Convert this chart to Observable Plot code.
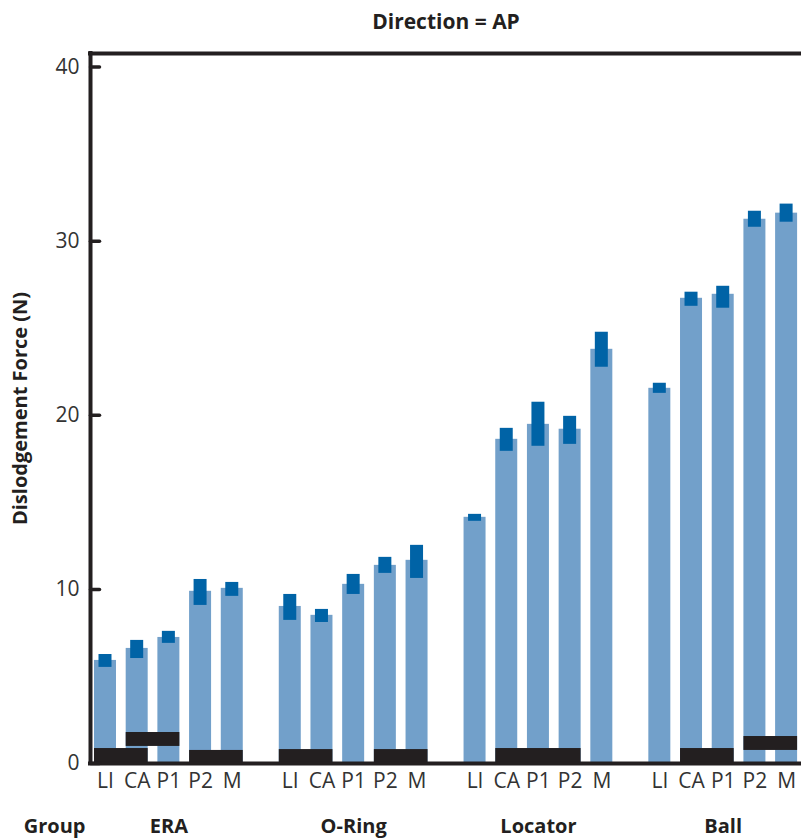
<!DOCTYPE html>
<html><head><meta charset="utf-8">
<script src="https://cdn.jsdelivr.net/npm/d3@7"></script>
<script src="https://cdn.jsdelivr.net/npm/@observablehq/plot@0.6"></script>
<style>body{margin:0;background:#fff;overflow:hidden}</style>
</head><body><div id="chart"></div>
<script>
// ---- data ----
const groups = ["ERA", "O-Ring", "Locator", "Ball"];
const positions = ["LI", "CA", "P1", "P2", "M"];
const yTicks = [0, 10, 20, 30, 40];

const eraMean     = [5.92, 6.61, 7.24, 9.89, 10.06];
const eraHigh     = [6.26, 7.07, 7.59, 10.57, 10.40];
const eraLow      = [5.52, 6.03, 6.90, 9.08, 9.60];
const oringMean   = [9.02, 8.51, 10.29, 11.38, 11.67];
const oringHigh   = [9.71, 8.85, 10.86, 11.84, 12.53];
const oringLow    = [8.22, 8.10, 9.71, 10.92, 10.63];
const locatorMean = [14.14, 18.62, 19.48, 19.20, 23.79];
const locatorHigh = [14.31, 19.25, 20.75, 19.94, 24.77];
const locatorLow  = [13.91, 17.93, 18.22, 18.33, 22.76];
const ballMean    = [21.55, 26.72, 26.95, 31.26, 31.61];
const ballHigh    = [21.84, 27.07, 27.41, 31.72, 32.13];
const ballLow     = [21.26, 26.26, 26.15, 30.80, 31.09];

// black segments spanning several positions
const segGroup = ["ERA", "ERA", "ERA", "O-Ring", "O-Ring", "Locator", "Ball", "Ball"];
const segFrom  = ["LI", "CA", "P2", "LI", "P2", "CA", "CA", "P2"];
const segTo    = ["CA", "P1", "M", "CA", "M", "P2", "P1", "M"];
const segLow   = [0, 0.98, 0, 0, 0, 0, 0, 0.75];
const segHigh  = [0.86, 1.78, 0.75, 0.80, 0.80, 0.86, 0.86, 1.55];

// ---- layout helpers ----
const GROUP_PITCH = 5.83;
const BAR_HALF = 0.347, ERR_HALF = 0.205;
const slot = (g, p) => groups.indexOf(g) * GROUP_PITCH + positions.indexOf(p);

const meanArr = [eraMean, oringMean, locatorMean, ballMean];
const highArr = [eraHigh, oringHigh, locatorHigh, ballHigh];
const lowArr  = [eraLow, oringLow, locatorLow, ballLow];

const bars = groups.flatMap((g, gi) => positions.map((p, pi) => ({
  group: g, pos: p, x: slot(g, p),
  mean: meanArr[gi][pi], high: highArr[gi][pi], low: lowArr[gi][pi]
})));
const segs = segGroup.map((g, i) => ({
  x1: slot(g, segFrom[i]) - BAR_HALF, x2: slot(g, segTo[i]) + BAR_HALF,
  low: segLow[i], high: segHigh[i]
}));

const xMin = -0.473, xMax = 21.96, yMax = 40.78;
const ink = "#231f20";
const font = "'Open Sans', sans-serif";
const tickShape = {draw(c, l) { c.moveTo(0, 0); c.lineTo(0, -l); }};

const chart = Plot.plot({
  width: 801, height: 838,
  marginLeft: 90, marginRight: 0, marginTop: 53, marginBottom: 75,
  x: {type: "linear", domain: [xMin, xMax], axis: null},
  y: {domain: [0, yMax], axis: null},
  style: {fontFamily: font, background: "white"},
  marks: [
    Plot.rect(bars, {x1: d => d.x - BAR_HALF, x2: d => d.x + BAR_HALF, y1: 0, y2: "mean", fill: "#72a0ca"}),
    Plot.rect(segs, {x1: "x1", x2: "x2", y1: "low", y2: "high", fill: ink}),
    Plot.rect(bars, {x1: d => d.x - ERR_HALF, x2: d => d.x + ERR_HALF, y1: "low", y2: "high", fill: "#0063a6"}),
    Plot.ruleX([xMin], {stroke: ink, strokeWidth: 4, strokeLinecap: "square"}),
    Plot.ruleY([0], {stroke: ink, strokeWidth: 4, strokeLinecap: "square"}),
    Plot.ruleY([yMax], {stroke: ink, strokeWidth: 4, strokeLinecap: "square"}),
    Plot.vector(yTicks, {y: d => d, frameAnchor: "left", anchor: "start", length: 9, rotate: 90,
      shape: tickShape, stroke: ink, strokeWidth: 3.5}),
    Plot.text(yTicks, {y: d => d, text: d => String(d), frameAnchor: "left", dx: -11,
      textAnchor: "end", lineAnchor: "middle", fontSize: 21, fill: "#333"}),
    Plot.text(bars, {x: "x", text: "pos", frameAnchor: "bottom", dy: 18,
      textAnchor: "middle", lineAnchor: "middle", fontSize: 21, fill: "#333"}),
    Plot.text(groups, {x: g => slot(g, "P1"), text: d => d, frameAnchor: "bottom", dy: 63,
      textAnchor: "middle", lineAnchor: "middle", fontSize: 20, fontWeight: "bold", fill: ink}),
    Plot.text(["Group"], {text: d => d, frameAnchor: "bottom-left", dx: -5, dy: 63,
      textAnchor: "end", lineAnchor: "middle", fontSize: 20, fontWeight: "bold", fill: ink}),
    Plot.text(["Direction = AP"], {text: d => d, frameAnchor: "top", dy: -31,
      textAnchor: "middle", lineAnchor: "middle", fontSize: 21, fontWeight: "bold", fill: ink}),
    Plot.text(["Dislodgement Force (N)"], {text: d => d, frameAnchor: "left", rotate: -90, dx: -70,
      textAnchor: "middle", lineAnchor: "middle", fontSize: 20, fontWeight: "bold", fill: ink})
  ]
});
document.getElementById("chart").append(chart);
</script></body></html>
